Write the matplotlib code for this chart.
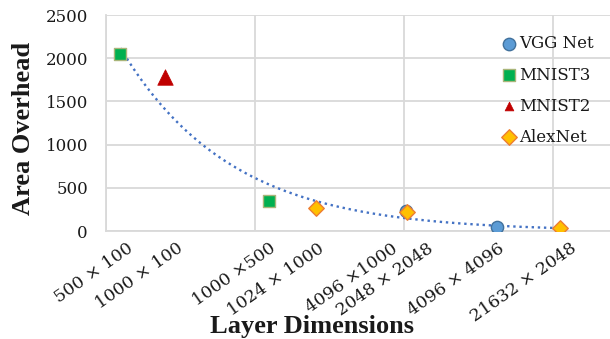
import matplotlib
matplotlib.use("Agg")
import matplotlib.pyplot as plt
from matplotlib.ticker import FixedLocator, NullFormatter, NullLocator
import numpy as np

# layer dimensions (rows, cols) and area overhead per network
vgg_dims = [(4096, 1000), (4096, 4096)]
vgg_area = [235, 50]
mnist3_dims = [(500, 100), (1000, 500)]
mnist3_area = [2050, 352]
mnist2_dims = [(1000, 100)]
mnist2_area = [1780]
alex_dims = [(1024, 1000), (2048, 2048), (21632, 2048)]
alex_area = [268, 223, 30]

# dotted trend curve (layer size, area overhead)
trend_size = [5.0e4, 6.8e4, 8.5e4, 1.0e5, 1.26e5, 1.7e5, 2.3e5, 3.2e5, 4.0e5,
              5.7e5, 1.04e6, 1.94e6, 3.94e6, 7.8e6, 1.68e7, 4.26e7]
trend_area = [2114, 1813, 1609, 1435, 1227, 1007, 822, 683, 579,
              486, 351, 235, 154, 101, 69, 31]

# x tick labels, in the order they appear on the chart
dim_labels = ["500 \u00d7 100", "1000 \u00d7 100", "1000 \u00d7500", "1024 \u00d7 1000",
              "4096 \u00d71000", "2048 \u00d7 2048", "4096 \u00d7 4096", "21632 \u00d7 2048"]
label_dims = [(500, 100), (1000, 100), (1000, 500), (1024, 1000),
              (4096, 1000), (2048, 2048), (4096, 4096), (21632, 2048)]
# nudge (pixels) of each label's end from its point
label_shift = [6, 11, 0, 2, -14, 20, 1, 10]


def size(dims):
    return [r * c for r, c in dims]


plt.rcParams['font.family'] = ['DejaVu Serif']

fig = plt.figure(figsize=(6.10, 3.39), dpi=100)
ax = fig.add_axes([106 / 610, 108 / 339, 504 / 610, 216 / 339])

grid_col = '#d9d9d9'
txt_col = '#1a1a1a'

# smooth the read trend samples
c = np.polyfit(np.log10(trend_size), np.log10(trend_area), 2)
tx = np.logspace(np.log10(trend_size[0]), np.log10(trend_size[-1]), 200)
ax.plot(tx, 10 ** np.polyval(c, np.log10(tx)), ls=(0, (1, 1.6)), color='#4472c4',
        lw=1.7, zorder=2)

ax.scatter(size(vgg_dims), vgg_area, marker='o', s=78, color='#5b9bd5',
           edgecolor='#41719c', lw=1, zorder=3, label='VGG Net')
ax.scatter(size(mnist3_dims), mnist3_area, marker='s', s=85, color='#00b050',
           edgecolor='#a9b57a', lw=1, zorder=3, label='MNIST3')
ax.scatter(size(mnist2_dims), mnist2_area, marker='^', s=125, color='#c00000',
           edgecolor='#c00000', lw=0.5, zorder=3, label='MNIST2')
ax.scatter(size(alex_dims), alex_area, marker='D', s=62, color='#ffc000',
           edgecolor='#ed7d31', lw=1, zorder=4, label='AlexNet')

ax.set_xscale('log')
ax.set_xlim(4e4, 4e4 * 10 ** (504 / 149))
ax.xaxis.set_major_locator(FixedLocator([4e4, 4e5, 4e6, 4e7]))
ax.xaxis.set_major_formatter(NullFormatter())
ax.xaxis.set_minor_locator(NullLocator())
ax.set_ylim(0, 2500)
ax.set_yticks([0, 500, 1000, 1500, 2000, 2500])
ax.grid(True, color=grid_col, lw=1.3)
ax.set_axisbelow(True)
for s in ['top', 'right']:
    ax.spines[s].set_visible(False)
for s in ['left', 'bottom']:
    ax.spines[s].set_color(grid_col)
    ax.spines[s].set_linewidth(1.3)
ax.tick_params(length=0, labelsize=12, colors=txt_col, pad=13)

for lab, d, sh in zip(dim_labels, size(label_dims), label_shift):
    ax.annotate(lab, xy=(d, 0), xycoords='data', xytext=(sh, -9),
                textcoords='offset pixels', ha='right', va='top', rotation=35,
                rotation_mode='anchor', fontsize=12.5, color=txt_col)

fig.text(23 / 610, 1 - 128 / 339, 'Area Overhead', rotation=90, ha='center', va='center',
         family='Liberation Serif', fontweight='bold', fontsize=19, color=txt_col)
fig.text(312 / 610, 1 - 326 / 339, 'Layer Dimensions', ha='center', va='center',
         family='Liberation Serif', fontweight='bold', fontsize=19, color=txt_col)

leg = ax.legend(loc='upper left', bbox_to_anchor=(492 / 610, 1 - 27 / 339),
                bbox_transform=fig.transFigure, frameon=False, fontsize=12,
                handletextpad=0.1, labelspacing=0.85, borderpad=0,
                handlelength=1.0, labelcolor=txt_col)
for h, sz in zip(leg.legend_handles, [80, 75, 40, 62]):
    h.set_sizes([sz])

fig.savefig('out.png', dpi=100)
